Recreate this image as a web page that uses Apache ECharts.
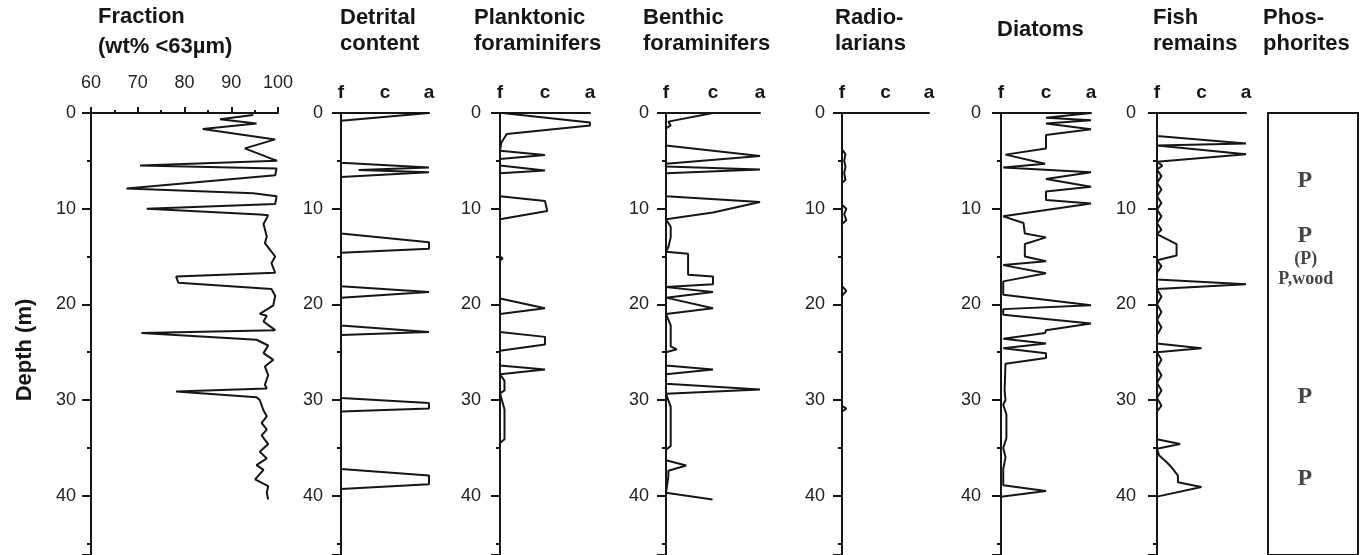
<!DOCTYPE html>
<html>
<head>
<meta charset="utf-8">
<script src="https://cdn.jsdelivr.net/npm/echarts@6/dist/echarts.min.js"></script>
<style>
  html, body { margin: 0; padding: 0; background: #fff; }
  #chart { width: 1369px; height: 555px; }
</style>
</head>
<body>
<div id="chart"></div>
<script>
// depth in m, value on the panel scale (fraction in wt%, others 0=f 1=c 2=a)
var fracDepth = [0.2,0.65,1.1,1.67,2.76,3.7,5.0,5.5,5.8,6.5,7.9,8.4,8.7,9.5,10.0,10.6,10.7,11.6,12.9,13.6,14.3,15.0,15.7,16.7,17.1,17.75,18.4,19.1,20.1,21.0,21.2,21.8,22.7,23.0,23.7,24.3,25.1,25.8,26.5,27.4,28.4,28.8,29.1,29.3,29.7,30.0,31.1,31.7,32.4,33.1,33.7,34.6,35.4,36.1,36.8,37.3,38.3,39.0,39.7,40.4];
var fracValue = [94.7,87.6,95.4,83.9,99.4,92.9,99.8,70.5,99.7,99.4,67.6,94.7,99.7,99.4,71.9,96.1,97.9,96.9,97.6,97.2,98.3,99.4,98.6,99.4,78.2,78.7,98.6,99.4,99.0,96.1,97.6,96.9,99.4,70.8,95.4,97.9,96.9,99.0,97.2,97.9,97.2,97.6,78.2,78.5,95.4,96.1,96.9,97.6,96.5,97.6,96.5,97.9,96.1,97.6,95.4,96.9,95.1,97.9,97.6,97.9];

var detDepth = [0,0.8,5.2,5.7,5.95,6.2,6.7,12.6,13.5,14.2,14.6,18.1,18.7,19.3,22.2,22.9,23.2,29.8,30.3,30.9,31.2,37.2,37.9,38.8,39.3,41];
var detValue = [2,0,0,2,0.4,2,0,0,2,2,0,0,2,0,0,2,0,0,2,2,0,0,2,2,0,0];

var plankDepth = [0,1.0,1.3,2.2,3.1,3.95,4.4,4.8,5.5,6.0,6.3,8.7,9.2,10.25,11.1,15.0,15.2,15.4,19.4,20.4,21.0,22.9,23.4,24.2,24.85,26.4,26.8,27.3,28.0,29.0,29.3,31.0,34.1,34.5,40];
var plankValue = [0.05,2,2,0.15,0.03,0,1.0,0,0,1.0,0,0,1.0,1.05,0,0,0.06,0,0,1.0,0,0,1.0,1.0,0,0,1.0,0,0.1,0.1,0,0.1,0.1,0,0];

var benDepth = [0,0.9,1.3,1.6,3.4,4.5,5.3,5.6,5.9,6.3,8.7,9.3,10.4,11.1,11.9,13.0,14.0,14.5,14.7,16.9,17.1,17.9,18.2,18.7,19.3,20.4,21.0,22.2,24.4,24.7,25.0,26.4,26.8,27.3,28.3,28.9,29.35,30.7,34.8,35.2,36.3,36.85,37.4,38.0,39.7,40.4];
var benValue = [1.0,0.05,0.1,0,0,2,0,0,2,0,0,2,1.0,0,0.1,0.1,0.05,0,0.47,0.47,1.0,1.0,0,1.0,0,1.0,0,0.1,0.1,0.23,0,0,1.0,0,0,2,0,0.1,0.1,0,0,0.43,0.05,0.05,0,0.99];

var radDepth = [0,3.8,4.3,5.0,5.6,6.3,7.0,7.3,9.6,10.0,10.6,11.2,11.6,18.1,18.6,19.1,30.6,30.9,31.2,42];
var radValue = [0,0,0.08,0.05,0.08,0.05,0.08,0,0,0.1,0.05,0.1,0,0,0.1,0,0,0.1,0,0];

var diaDepth = [0,0.5,0.77,1.1,1.7,2.3,3.7,4.35,5.3,5.7,6.2,6.9,7.7,8.2,9.1,9.45,10.8,11.5,12.6,13.0,13.7,15.0,15.5,15.9,16.75,17.6,19.0,20.1,20.5,21.1,22.0,22.7,23.0,23.6,24.1,24.6,25.1,25.6,26.2,29.0,30.0,30.5,31.5,34.0,35.0,36.0,37.2,38.9,39.5,40.1];
var diaValue = [2,1.0,2,1.0,2,1.0,1.0,0.1,0.98,0.05,2,1.0,2,1.0,1.0,2,0.05,0.5,0.53,1.0,0.53,0.53,1.0,0.05,1.0,0.05,0.05,2,0.05,0.05,2,1.0,0.98,0.05,1.0,0.05,1.0,1.0,0.1,0.08,0.1,0.05,0.12,0.12,0.05,0.1,0.05,0.05,1.0,0];

var fishDepth = [0,2.4,3.2,3.4,4.3,5.1,5.5,5.9,6.6,7.3,8.0,8.7,9.4,10.1,10.8,11.5,12.2,12.65,13.7,14.9,15.4,16.0,16.7,17.4,17.9,18.4,19.2,20.0,20.8,21.6,22.4,23.2,24.1,24.6,25.0,25.8,26.6,27.4,28.2,29.0,29.8,30.6,31.2,34.1,34.6,35.1,35.8,36.5,37.0,37.9,38.6,39.1,40.1];
var fishValue = [0,0,2,0,2,0,0.12,0,0.1,0,0.1,0,0.1,0,0.1,0,0.1,0,0.44,0.44,0,0.1,0,0,2,0,0.1,0,0.1,0,0.1,0,0,1.0,0,0.1,0,0.1,0,0.1,0,0.1,0,0,0.52,0,0.05,0.22,0.32,0.47,0.47,1.0,0];

var phosDepth = [7.05,12.8,29.65,38.2];
var phosLabel = ['P','P','P','P'];
var phosNoteDepth = [15.3,17.4];
var phosNote = ['(P)','P,wood'];

var abundTicks = ['f','c','a'];
var fracTicks = [60,70,80,90,100];

var panelTitles = ['Fraction\n(wt% <63\u00b5m)','Detrital\ncontent','Planktonic\nforaminifers','Benthic\nforaminifers','Radio-\nlarians','Diatoms','Fish\nremains','Phos-\nphorites'];

var INK = '#161616';
var DEPTH_MAX = 46.2;
var FONT = 'Liberation Sans, Arial, Helvetica, sans-serif';

// panel left edge / width in px
var panels = [
  {left: 91, width: 187, labelMargin: 15},
  {left: 341, width: 88, labelMargin: 18},
  {left: 500, width: 90, labelMargin: 19},
  {left: 666, width: 94, labelMargin: 17},
  {left: 842, width: 87, labelMargin: 17},
  {left: 1001, width: 90, labelMargin: 20},
  {left: 1157, width: 89, labelMargin: 21},
  {left: 1268, width: 90}
];
var titleLeft = [98, 340, 474, 643, 835, 997, 1153, 1263];

function zip(d, v) {
  var out = [];
  for (var i = 0; i < d.length; i++) out.push([v[i], d[i]]);
  return out;
}

var grids = [], xAxes = [], yAxes = [], series = [];

panels.forEach(function (p, i) {
  var isPhos = i === 7;
  grids.push({
    left: p.left, width: p.width, top: 113, bottom: -10,
    show: isPhos, borderColor: INK, borderWidth: 2, backgroundColor: 'transparent'
  });
  var xa = {
    gridIndex: i, type: 'value', position: 'top',
    axisLine: {show: !isPhos, onZero: false, lineStyle: {color: INK, width: 2}},
    splitLine: {show: false}
  };
  if (i === 0) {
    xa.min = 60; xa.max = 100; xa.interval = 10;
    xa.axisTick = {show: true, length: 6, lineStyle: {color: INK, width: 2}};
    xa.minorTick = {show: true, splitNumber: 2, length: 3, lineStyle: {color: INK, width: 2}};
    xa.axisLabel = {margin: 21, fontSize: 18, color: '#222', fontFamily: FONT,
      formatter: function (v) { return fracTicks.indexOf(v) >= 0 ? String(v) : ''; }};
  } else if (isPhos) {
    xa.min = 0; xa.max = 1; xa.show = false;
  } else {
    xa.min = 0; xa.max = 2; xa.interval = 1;
    xa.axisTick = {show: false};
    xa.axisLabel = {margin: 11, fontSize: 19, fontWeight: 'bold', color: INK, fontFamily: FONT,
      formatter: function (v) { return abundTicks[v] || ''; }};
  }
  xAxes.push(xa);

  yAxes.push({
    gridIndex: i, type: 'value', inverse: true, min: 0, max: DEPTH_MAX, interval: 10,
    show: !isPhos,
    axisLine: {show: true, onZero: false, lineStyle: {color: INK, width: 2}},
    axisTick: {show: true, length: 9, lineStyle: {color: INK, width: 2}},
    minorTick: {show: true, splitNumber: 2, length: 4, lineStyle: {color: INK, width: 2}},
    splitLine: {show: false},
    axisLabel: {margin: p.labelMargin, fontSize: 18, color: '#222', fontFamily: FONT,
      showMaxLabel: false}
  });
});

var curves = [
  zip(fracDepth, fracValue), zip(detDepth, detValue), zip(plankDepth, plankValue),
  zip(benDepth, benValue), zip(radDepth, radValue), zip(diaDepth, diaValue),
  zip(fishDepth, fishValue)
];
curves.forEach(function (data, i) {
  series.push({
    type: 'line', xAxisIndex: i, yAxisIndex: i, data: data,
    showSymbol: false, symbol: 'none', animation: false,
    lineStyle: {color: INK, width: 2}
  });
});

series.push({
  type: 'scatter', xAxisIndex: 7, yAxisIndex: 7, symbolSize: 0, animation: false,
  data: phosDepth.map(function (d, i) { return {value: [0.41, d], name: phosLabel[i]}; }),
  label: {show: true, position: 'inside', formatter: '{b}', color: INK,
    fontFamily: 'Liberation Serif, Times New Roman, serif', fontWeight: 'bold', fontSize: 24}
});
series.push({
  type: 'scatter', xAxisIndex: 7, yAxisIndex: 7, symbolSize: 0, animation: false,
  data: phosNoteDepth.map(function (d, i) { return {value: [0.42, d], name: phosNote[i]}; }),
  label: {show: true, position: 'inside', formatter: '{b}', color: INK,
    fontFamily: 'Liberation Serif, Times New Roman, serif', fontWeight: 'bold', fontSize: 18}
});

var titles = panelTitles.map(function (t, i) {
  var twoLine = t.indexOf('\n') >= 0;
  return {
    text: t, left: titleLeft[i], top: i === 0 ? 2 : (twoLine ? 5 : 17), padding: 0,
    textStyle: {fontFamily: FONT, fontSize: 22, fontWeight: 'bold', color: INK,
      lineHeight: i === 0 ? 30 : 26}
  };
});

var chart = echarts.init(document.getElementById('chart'));
chart.setOption({
  backgroundColor: '#fff',
  animation: false,
  title: titles,
  grid: grids,
  xAxis: xAxes,
  yAxis: yAxes,
  series: series,
  graphic: [{
    type: 'text', x: 25, y: 350, rotation: Math.PI / 2,
    style: {text: 'Depth (m)', font: 'bold 22px Liberation Sans, Arial, sans-serif',
      fill: INK, align: 'center', verticalAlign: 'middle'}
  }]
});
</script>
</body>
</html>
